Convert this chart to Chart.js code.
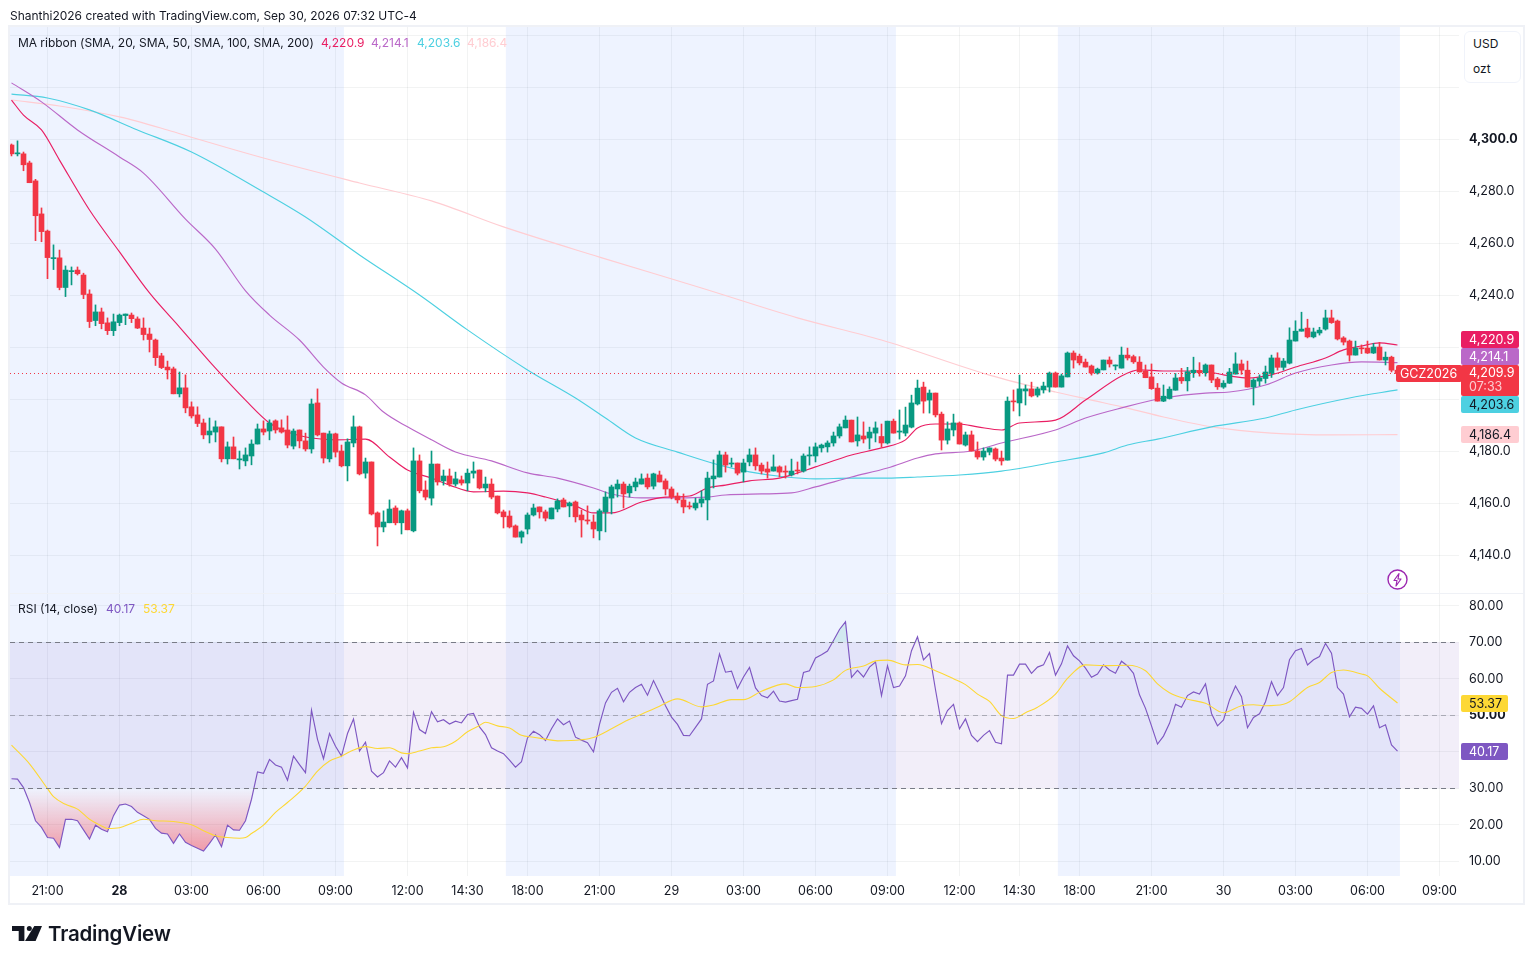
<!DOCTYPE html>
<html><head><meta charset="utf-8"><title>GCZ2026</title>
<script src="https://cdn.jsdelivr.net/npm/chart.js@4/dist/chart.umd.min.js"></script>
<style>
html,body{margin:0;padding:0;background:#fff;width:1534px;height:964px;overflow:hidden;font-family:Inter,sans-serif;color:#131722}
#c{position:absolute;left:0;top:0}
.t{position:absolute;white-space:nowrap;font-size:12px;line-height:16px}
</style></head><body>
<canvas id="c" width="1534" height="964"></canvas>
<div class="t" style="left:10px;top:8px;letter-spacing:-.015px">Shanthi2026 created with TradingView.com, Sep 30, 2026 07:32 UTC-4</div>
<div class="t" style="left:18px;top:35px;letter-spacing:-.04px">MA ribbon (SMA, 20, SMA, 50, SMA, 100, SMA, 200)</div>
<div class="t" style="left:321px;top:35px;color:#E91E63">4,220.9</div>
<div class="t" style="left:371px;top:35px;color:#BA68C8">4,214.1</div>
<div class="t" style="left:417px;top:35px;color:#4DD0E1">4,203.6</div>
<div class="t" style="left:467px;top:35px;color:#FFCDD2">4,186.4</div>
<div class="t" style="left:18px;top:601px">RSI (14, close)</div>
<div class="t" style="left:106px;top:601px;color:#7E57C2">40.17</div>
<div class="t" style="left:143px;top:601px;color:#FDD835">53.37</div>
<div style="position:absolute;left:1464px;top:31px;width:55px;height:50px;border:1px solid #f0f3fa;border-radius:6px;background:#fff"></div>
<div class="t" style="left:1473px;top:36px">USD</div>
<div class="t" style="left:1473px;top:61px">ozt</div>
<svg style="position:absolute;left:1386px;top:568px" width="24" height="24" viewBox="0 0 24 24"><circle cx="11.5" cy="11.5" r="9.5" fill="#fff" stroke="#9C27B0" stroke-width="1.4"/><path d="M13 5.5 8 12.5h3l-1 5.5 5-7h-3z" fill="none" stroke="#9C27B0" stroke-width="1.2" stroke-linejoin="round"/></svg>
<svg style="position:absolute;left:12px;top:926px" width="31" height="16" viewBox="0 0 31 16"><path d="M0 0H12.4V15H6.7V5H0z" fill="#131722"/><circle cx="17.3" cy="2.5" r="2.5" fill="#131722"/><path d="M22.3 0H30L23.6 15H13z" fill="#131722"/></svg>
<div class="t" style="left:48px;top:921px;font-size:20.5px;line-height:26px;font-weight:600;letter-spacing:-.2px">TradingView</div>
<script>
const opens=[4297.8,4294.4,4294.4,4290.9,4284.0,4271.3,4264.7,4254.1,4254.4,4243.0,
4249.1,4249.7,4247.8,4240.5,4230.3,4233.6,4229.4,4226.4,4229.5,4232.2,
4232.4,4230.9,4227.4,4225.1,4222.8,4216.7,4212.4,4211.7,4202.1,4204.4,
4197.1,4194.0,4190.9,4186.3,4187.4,4189.4,4177.1,4181.7,4176.7,4176.3,
4178.2,4182.8,4188.6,4187.8,4191.7,4189.0,4188.2,4182.0,4188.2,4184.0,
4180.9,4198.6,4187.0,4177.1,4186.7,4180.1,4174.4,4183.2,4189.4,4171.6,
4175.9,4156.3,4150.9,4152.5,4158.2,4152.5,4157.1,4149.4,4176.3,4165.1,
4162.0,4175.1,4168.6,4170.5,4167.4,4169.0,4167.8,4171.6,4172.8,4165.9,
4167.4,4162.8,4156.7,4155.1,4151.3,4147.0,4150.1,4155.5,4158.6,4156.7,
4154.0,4157.8,4161.3,4159.0,4160.5,4155.5,4153.6,4152.8,4149.4,4156.7,
4162.0,4165.5,4167.4,4164.0,4166.3,4167.4,4169.7,4166.6,4170.9,4168.6,
4165.5,4162.8,4161.3,4159.0,4158.2,4160.1,4161.3,4169.4,4170.1,4178.6,
4175.1,4175.5,4172.0,4175.9,4178.6,4174.7,4173.2,4172.4,4174.0,4172.4,
4170.9,4172.8,4172.4,4178.2,4178.2,4181.3,4181.7,4183.2,4185.9,4189.0,
4192.0,4184.0,4185.9,4185.1,4187.0,4185.7,4183.2,4191.6,4187.4,4187.0,
4189.3,4198.2,4204.7,4199.7,4202.4,4194.3,4184.3,4188.2,4190.9,4182.4,
4186.3,4180.1,4177.8,4179.7,4180.9,4177.4,4176.6,4199.3,4198.6,4203.2,
4204.0,4201.6,4203.6,4204.7,4210.1,4204.7,4208.6,4217.8,4216.6,4214.3,
4212.8,4210.1,4211.3,4215.1,4212.8,4212.0,4217.0,4216.4,4214.3,4210.8,
4208.6,4204.3,4199.3,4200.3,4203.5,4208.4,4207.1,4210.2,4211.1,4210.2,
4213.2,4207.8,4204.7,4206.2,4209.7,4213.6,4211.2,4204.7,4207.0,4208.0,
4209.9,4215.9,4212.3,4213.9,4222.4,4226.2,4227.4,4224.0,4225.5,4227.0,
4231.3,4230.1,4223.6,4222.4,4217.0,4219.7,4219.7,4217.8,4220.1,4215.1,4216.2,4211.2];
const closes=[4294.4,4294.7,4290.2,4283.3,4270.6,4264.5,4254.5,4254.4,4243.0,4249.7,
4249.4,4248.3,4240.3,4229.9,4233.6,4229.1,4226.4,4229.8,4232.4,4232.8,
4231.0,4227.4,4224.9,4223.0,4216.0,4212.2,4211.3,4202.1,4204.4,4196.7,
4193.6,4190.7,4186.3,4187.8,4189.4,4177.1,4181.7,4177.1,4177.1,4178.6,
4182.8,4188.6,4187.4,4190.9,4188.2,4187.4,4182.4,4187.8,4184.0,4180.9,
4198.2,4186.3,4177.4,4186.7,4179.7,4174.4,4183.6,4189.4,4171.3,4175.9,
4155.9,4150.9,4152.8,4157.8,4152.5,4157.1,4149.8,4176.3,4164.8,4162.4,
4175.1,4168.2,4170.5,4167.4,4169.4,4167.8,4171.6,4172.4,4165.9,4167.4,
4162.4,4156.3,4154.8,4150.9,4147.0,4149.0,4155.5,4158.2,4156.7,4154.3,
4158.2,4160.9,4158.6,4160.1,4154.8,4153.6,4153.2,4150.1,4157.1,4162.4,
4166.3,4167.4,4163.6,4166.6,4168.2,4169.4,4166.3,4171.3,4168.2,4165.5,
4162.4,4161.3,4158.6,4158.6,4160.1,4161.7,4169.7,4170.5,4178.6,4174.7,
4175.5,4171.6,4175.5,4178.6,4174.4,4172.4,4172.0,4174.0,4172.0,4172.0,
4172.4,4172.4,4178.2,4178.6,4181.7,4182.4,4183.2,4185.9,4189.4,4192.0,
4183.6,4186.3,4184.7,4187.4,4189.0,4183.2,4191.6,4187.0,4187.8,4190.1,
4198.6,4204.3,4199.3,4202.4,4194.0,4184.3,4188.6,4190.9,4182.8,4186.3,
4180.1,4177.8,4180.1,4181.3,4177.0,4176.3,4199.3,4199.0,4204.0,4204.0,
4201.3,4204.0,4205.1,4210.1,4204.7,4209.0,4217.8,4215.1,4214.0,4212.4,
4210.1,4211.6,4215.1,4213.6,4213.2,4217.0,4215.9,4214.4,4210.5,4208.3,
4204.1,4199.3,4201.2,4203.9,4208.2,4207.1,4210.6,4211.2,4210.2,4213.2,
4207.4,4204.8,4206.2,4210.5,4213.6,4211.2,4204.7,4207.4,4208.2,4210.5,
4215.9,4212.3,4214.7,4222.8,4226.2,4227.0,4224.0,4225.9,4226.6,4231.3,
4229.5,4223.2,4222.0,4217.0,4219.7,4219.4,4217.8,4220.1,4215.1,4216.2,4211.2,4209.9];
const highs=[4298.2,4299.4,4295.1,4291.6,4284.6,4273.6,4265.1,4259.4,4257.4,4251.3,
4250.9,4250.9,4248.5,4242.1,4236.3,4235.1,4231.3,4232.8,4232.8,4232.8,
4233.2,4231.7,4231.3,4227.4,4223.2,4217.7,4214.7,4212.4,4210.5,4209.4,
4199.0,4197.1,4192.4,4192.8,4191.7,4189.4,4183.6,4185.5,4180.1,4181.3,
4184.4,4190.5,4191.7,4192.1,4192.1,4192.1,4193.6,4188.6,4188.2,4187.0,
4200.1,4204.0,4187.0,4187.8,4187.0,4182.4,4184.8,4193.6,4189.7,4177.4,
4175.9,4156.7,4157.1,4161.3,4159.0,4157.4,4157.8,4181.3,4178.6,4168.6,
4180.1,4175.1,4172.8,4173.2,4172.0,4170.5,4173.2,4175.9,4172.8,4170.1,
4169.4,4162.8,4157.4,4157.1,4151.7,4149.4,4156.3,4159.7,4158.6,4157.4,
4158.2,4161.7,4162.0,4160.5,4160.9,4157.4,4159.0,4155.5,4157.8,4164.4,
4167.0,4169.0,4168.2,4167.4,4169.7,4171.3,4171.3,4171.6,4172.4,4169.4,
4166.3,4164.0,4163.6,4160.5,4162.0,4164.8,4172.0,4176.7,4180.1,4179.7,
4177.4,4175.5,4177.0,4180.9,4181.3,4175.5,4175.9,4178.6,4174.4,4174.4,
4177.0,4175.9,4179.0,4181.7,4183.2,4182.8,4184.0,4187.4,4190.5,4193.6,
4192.0,4193.2,4191.3,4189.3,4191.3,4190.5,4191.6,4192.4,4195.9,4197.0,
4201.6,4207.4,4206.6,4203.6,4202.4,4195.1,4191.3,4194.3,4191.3,4187.4,
4187.8,4183.6,4181.3,4181.3,4181.3,4180.1,4200.9,4203.6,4209.3,4205.5,
4206.6,4204.7,4206.6,4210.5,4210.5,4209.7,4218.2,4218.6,4217.4,4215.5,
4213.2,4212.0,4215.1,4216.3,4213.2,4220.1,4219.7,4217.0,4216.4,4213.2,
4213.6,4206.1,4205.5,4204.8,4209.9,4211.9,4212.3,4216.2,4214.1,4213.6,
4213.2,4208.4,4207.2,4211.9,4217.9,4215.1,4214.7,4207.9,4209.4,4212.8,
4217.0,4217.9,4215.7,4227.5,4230.2,4233.5,4230.8,4227.4,4227.7,4234.3,
4234.3,4230.5,4224.1,4222.8,4222.4,4220.9,4222.4,4221.5,4221.9,4218.2,4216.6,4212.0];
const lows=[4293.6,4293.6,4287.9,4283.3,4261.0,4260.6,4246.4,4249.9,4242.1,4239.5,
4244.0,4247.8,4238.7,4227.6,4228.3,4227.1,4224.9,4224.5,4228.3,4228.7,
4229.5,4227.2,4222.8,4218.2,4213.0,4211.8,4207.8,4202.1,4200.9,4194.8,
4192.8,4189.5,4184.8,4183.2,4183.6,4175.9,4175.1,4177.1,4173.2,4174.4,
4174.8,4182.8,4186.3,4184.4,4187.0,4187.0,4181.3,4180.9,4181.3,4180.1,
4179.3,4185.9,4175.5,4175.9,4177.8,4174.0,4168.6,4181.7,4170.9,4169.7,
4155.5,4143.6,4149.0,4152.5,4151.7,4148.2,4149.8,4149.0,4164.0,4161.3,
4159.3,4167.0,4167.0,4166.6,4166.6,4167.0,4164.8,4169.7,4165.5,4164.4,
4161.7,4155.9,4150.5,4150.5,4147.0,4144.7,4148.2,4155.1,4154.3,4153.2,
4154.0,4156.7,4158.6,4154.8,4152.8,4147.0,4152.0,4146.7,4145.9,4149.0,
4155.9,4162.4,4158.2,4162.4,4164.8,4167.4,4165.5,4165.5,4168.2,4163.2,
4161.7,4160.1,4156.3,4157.8,4157.4,4158.6,4153.6,4165.9,4170.1,4172.0,
4174.0,4170.9,4168.2,4174.4,4172.8,4171.3,4169.7,4172.4,4170.1,4169.7,
4170.5,4171.3,4172.0,4174.7,4175.9,4179.7,4179.7,4182.0,4185.1,4189.0,
4183.6,4182.0,4183.2,4180.9,4183.6,4181.6,4182.8,4187.0,4184.7,4185.9,
4189.0,4197.8,4194.7,4194.7,4193.2,4180.5,4182.8,4185.9,4182.8,4182.0,
4180.1,4177.0,4176.6,4178.6,4176.3,4174.7,4176.6,4195.5,4193.6,4197.8,
4200.9,4200.9,4202.4,4202.8,4204.7,4204.7,4208.6,4212.0,4213.2,4212.4,
4209.3,4209.7,4211.3,4212.4,4211.3,4212.0,4215.1,4213.8,4210.5,4208.3,
4203.8,4199.3,4199.1,4200.1,4203.5,4206.1,4203.2,4208.4,4208.9,4208.9,
4206.4,4203.8,4204.2,4206.1,4209.7,4209.6,4204.7,4197.8,4205.2,4206.2,
4208.4,4211.2,4211.2,4213.6,4222.4,4226.2,4223.6,4223.6,4224.7,4226.6,
4229.2,4222.8,4220.9,4214.7,4217.0,4217.6,4217.6,4217.6,4215.1,4213.2,4210.5,4208.5];
const rsiValues=[32.6,32.5,30.2,26.1,21.1,19.3,16.5,16.3,13.8,21.5,
21.5,21.1,18.6,16.1,19.9,18.8,18.1,22.5,25.4,25.7,
25.0,23.4,22.5,21.5,19.0,17.7,17.5,14.9,17.5,15.2,
14.3,13.6,12.8,14.9,17.2,14.0,19.9,18.6,18.5,21.1,
27.0,34.5,34.1,37.9,36.4,35.8,32.2,38.8,36.5,34.3,
51.4,43.4,38.1,45.0,41.5,38.8,45.0,49.0,40.2,42.6,
34.7,33.1,34.3,37.5,35.8,38.4,35.6,50.8,46.1,45.0,
51.0,48.2,48.8,47.6,48.4,47.9,50.2,50.5,46.8,44.7,
41.1,40.2,39.5,37.7,35.8,37.3,43.8,45.6,44.7,43.1,
46.3,49.0,47.4,48.4,44.0,43.2,42.5,40.0,47.5,53.4,
56.3,57.4,53.7,56.3,57.6,58.5,55.5,59.5,56.1,52.6,
49.5,47.5,44.5,44.4,46.7,49.0,58.5,59.4,66.8,61.8,
62.1,57.3,60.5,63.1,57.5,55.4,54.8,56.6,53.9,53.6,
54.0,54.4,61.7,62.2,65.7,66.6,67.6,70.5,73.5,75.6,
60.4,62.3,60.5,63.2,64.6,55.4,63.6,57.6,58.0,60.8,
67.7,71.5,65.2,66.9,57.0,47.7,51.3,53.0,46.3,49.0,
44.5,42.8,44.5,45.8,42.6,42.2,61.0,61.0,64.0,64.0,
61.5,63.2,63.8,67.2,61.0,64.1,69.0,66.3,64.9,62.9,
60.4,61.3,63.8,62.4,61.5,64.8,63.5,61.5,55.6,51.9,
47.1,42.1,44.3,47.8,53.0,52.2,55.4,56.4,55.8,58.6,
50.5,47.1,48.7,54.2,58.0,55.1,46.6,49.4,50.4,53.7,
59.2,55.4,57.6,65.2,67.7,68.3,63.8,65.2,66.1,69.7,
67.0,57.6,55.8,49.6,52.2,51.9,50.3,52.6,46.6,47.4,41.9,40.17];
const rsiMaIdx=[0,3,6,7,9,11,13,15,16,18,20,22,24,27,30,32,34,36,38,39,40,42,44,46,49,51,53,55,57,59,61,63,65,66,68,70,72,74,76,78,79,81,83,85,87,90,91,95,97,100,102,105,108,111,115,117,120,122,125,129,131,134,137,139,142,144,146,149,151,154,157,159,161,163,165,167,169,171,174,176,179,182,186,189,191,193,196,199,202,205,207,209,212,213,216,218,220,222,225,226,228,231];
const rsiMaVals=[41.8,36.7,29.9,27.7,25.6,24.3,21.5,19.7,19.0,19.2,20.4,21.5,21.1,20.9,20.0,18.4,17.0,16.5,16.3,16.5,17.6,19.9,23.4,26.1,30.6,34.7,37.5,38.8,40.5,41.4,40.9,41.1,39.7,39.5,40.2,41.1,41.4,42.9,45.5,47.2,48.1,47.1,46.5,44.5,44.0,43.2,43.0,43.3,43.9,46.3,48.1,50.3,52.5,54.5,52.3,52.8,54.3,54.3,56.6,58.6,57.6,57.9,59.7,62.3,63.5,64.9,65.1,63.8,63.9,62.2,60.0,58.4,55.8,53.8,49.9,49.1,50.7,52.2,55.8,60.1,63.8,63.6,63.7,62.2,58.6,56.2,54.4,53.3,50.7,52.6,52.9,52.6,53.0,53.7,57.6,59.0,61.7,62.4,61.3,60.8,57.4,53.37];
const sma20Idx=[0,2,5,8,13,18,23,28,34,39,43,46,50,54,59,63,66,70,73,77,82,86,89,94,97,100,105,109,113,116,119,123,128,130,134,140,145,149,151,154,158,161,165,168,174,179,185,188,192,198,203,206,210,214,219,222,225,228,231];
const sma20Vals=[4315.1,4309.3,4303.6,4292.0,4272.8,4256.7,4240.9,4227.8,4212.0,4199.7,4190.9,4187.4,4185.1,4184.4,4184.7,4177.8,4172.8,4169.7,4167.0,4164.4,4164.7,4164.0,4162.4,4159.0,4156.3,4156.3,4160.5,4162.4,4162.8,4165.9,4167.0,4168.6,4169.7,4170.9,4174.0,4178.6,4181.3,4184.4,4189.0,4190.5,4190.5,4189.4,4188.2,4190.9,4192.0,4199.7,4209.0,4211.3,4210.9,4210.9,4209.0,4208.2,4209.4,4212.4,4215.9,4219.0,4220.5,4221.7,4220.9];
const sma50Idx=[0,5,11,18,22,29,34,39,43,48,52,55,59,62,66,70,74,80,86,91,97,100,105,111,116,119,125,130,134,140,146,151,154,160,165,174,179,185,192,199,203,209,214,220,225,231];
const sma50Vals=[4321.7,4314.4,4303.6,4293.2,4287.0,4269.3,4257.8,4241.7,4232.4,4222.8,4212.4,4206.3,4201.7,4195.1,4189.4,4184.4,4179.7,4176.3,4171.7,4169.7,4165.9,4163.6,4162.1,4162.1,4162.4,4163.2,4163.6,4164.0,4166.3,4170.1,4173.6,4177.4,4179.0,4180.1,4183.2,4188.2,4192.8,4196.7,4200.5,4202.4,4202.8,4205.5,4210.1,4213.2,4214.4,4214.1];
const sma100Idx=[0,6,13,21,30,42,49,58,68,76,86,94,99,104,111,118,123,129,134,140,146,151,158,165,174,182,186,191,200,209,214,223,231];
const sma100Vals=[4317.4,4315.9,4311.3,4303.6,4295.1,4279.7,4270.1,4255.5,4240.1,4226.7,4211.3,4200.5,4192.8,4185.1,4179.7,4174.7,4172.1,4170.1,4169.4,4169.7,4169.7,4170.1,4170.9,4172.4,4175.9,4179.4,4182.4,4184.7,4189.4,4192.8,4195.9,4200.5,4203.6];
const sma200Idx=[0,8,18,26,31,42,58,70,82,98,115,131,145,163,174,180,186,192,200,210,220,231];
const sma200Vals=[4315.1,4312.8,4308.6,4303.6,4300.1,4292.8,4283.2,4276.3,4266.3,4254.7,4242.8,4231.3,4222.8,4209.3,4202.8,4199.7,4196.6,4193.2,4189.4,4187.0,4186.3,4186.4];
const priceTicks=[4140,4160,4180,4200,4220,4240,4260,4280,4300,4320,4340];
const rsiTicks=[10,20,30,40,50,60,70,80];
const timeIdx=[6,18,30,42,54,66,76,86,98,110,122,134,146,158,168,178,190,202,214,226,238];
const timeLabels=['21:00','28','03:00','06:00','09:00','12:00','14:30','18:00','21:00','29','03:00','06:00','09:00','12:00','14:30','18:00','21:00','30','03:00','06:00','09:00'];
const sessionStart=[-0.25,82.4,174.4];
const sessionEnd=[55.4,147.4,231.4];
const rsiBandHigh=70,rsiBandMid=50,rsiBandLow=30;
const lastClose=closes[closes.length-1];

const RED='#F23645',GREEN='#089981',FONT='Inter',AXIS_SIZE=12.5;
const pts=(ix,v)=>ix.map((x,i)=>({x,y:v[i]}));
const candleColor=c=>{const i=c.dataIndex;return closes[i]>=opens[i]?GREEN:RED;};
const tv=c=>c.tick?c.tick.value:null;
const ctx0=document.getElementById('c').getContext('2d');
const lowFill=ctx0.createLinearGradient(0,788,0,856);
lowFill.addColorStop(0,'rgba(242,54,69,0)');lowFill.addColorStop(1,'rgba(242,54,69,0.5)');

const maLine=(label,ix,v,color)=>({type:'line',label,data:pts(ix,v),xAxisID:'x',yAxisID:'yP',borderColor:color,borderWidth:1.15,pointRadius:0,cubicInterpolationMode:'monotone',order:5,fill:false});

const paneDecor={id:'paneDecor',
 beforeDatasetsDraw(ch){
  const c=ch.ctx,a=ch.chartArea,x=ch.scales.x,yR=ch.scales.yR;
  c.save();
  c.fillStyle='rgba(41,98,255,0.08)';
  sessionStart.forEach((s,i)=>{const l=x.getPixelForValue(s),r=x.getPixelForValue(sessionEnd[i]);c.fillRect(l,a.top,r-l,a.bottom-a.top);});
  const t=yR.getPixelForValue(rsiBandHigh),b=yR.getPixelForValue(rsiBandLow);
  c.fillStyle='rgba(126,87,194,0.1)';c.fillRect(a.left,t,a.right-a.left,b-t);
  c.restore();
 },
 afterDatasetsDraw(ch){
  const c=ch.ctx,a=ch.chartArea,yR=ch.scales.yR,yP=ch.scales.yP;
  c.save();
  c.lineWidth=1;c.setLineDash([5,4]);
  [[rsiBandHigh,'#787B86'],[rsiBandMid,'rgba(120,123,134,.55)'],[rsiBandLow,'#787B86']].forEach(([v,col])=>{
   const y=Math.round(yR.getPixelForValue(v))+.5;c.strokeStyle=col;c.beginPath();c.moveTo(a.left,y);c.lineTo(a.right,y);c.stroke();});
  c.setLineDash([1,3]);c.strokeStyle=RED;
  const py=Math.floor(yP.getPixelForValue(lastClose))+.5;
  c.beginPath();c.moveTo(a.left,py);c.lineTo(a.right,py);c.stroke();
  c.restore();
 },
 afterDraw(ch){
  const c=ch.ctx;
  c.save();
  c.setLineDash([]);c.strokeStyle='#eff1f6';c.lineWidth=2;
  c.strokeRect(9,26,1515,878);
  c.lineWidth=1;c.beginPath();c.moveTo(10,593.5);c.lineTo(1524,593.5);c.stroke();
  c.font=AXIS_SIZE+'px '+FONT;c.textBaseline='middle';c.textAlign='left';
  const tag=(x,y,w,h,bg,fg,txt,ty)=>{c.fillStyle=bg;c.beginPath();c.roundRect(x,y,w,h,2);c.fill();
   c.fillStyle=fg;c.fillText(txt,x+8,ty===undefined?y+h/2+.5:ty);};
  tag(1461,331,58,17,'#E91E63','#fff','4,220.9');
  tag(1461,348,58,17,'#BA68C8','#fff','4,214.1');
  tag(1461,365,58,31,RED,'#fff','4,209.9',373.5);
  c.fillStyle='rgba(255,255,255,.75)';c.fillText('07:33',1469,387);
  tag(1461,396,58,17,'#4DD0E1','#131722','4,203.6');
  tag(1461,426,58,17,'#FFCDD2','#131722','4,186.4');
  c.fillStyle=RED;c.beginPath();c.roundRect(1396,365,66,17,2);c.fill();
  c.fillStyle='#fff';c.fillText('GCZ2026',1400,374);
  tag(1461,695,47,17,'#FDD835','#131722','53.37');
  tag(1461,743,47,17,'#7E57C2','#fff','40.17');
  c.restore();
 }};

new Chart(ctx0,{
 type:'bar',
 data:{datasets:[
  {type:'bar',label:'GCZ2026 body',data:opens.map((o,i)=>({x:i,y:[o,closes[i]]})),xAxisID:'x',yAxisID:'yP',backgroundColor:candleColor,barThickness:5,grouped:false,minBarLength:1,order:1},
  {type:'bar',label:'GCZ2026 wick',data:highs.map((h,i)=>({x:i,y:[lows[i],h]})),xAxisID:'x',yAxisID:'yP',backgroundColor:candleColor,barThickness:1,grouped:false,order:2},
  maLine('SMA 20',sma20Idx,sma20Vals,'#E91E63'),
  maLine('SMA 50',sma50Idx,sma50Vals,'#BA68C8'),
  maLine('SMA 100',sma100Idx,sma100Vals,'#4DD0E1'),
  maLine('SMA 200',sma200Idx,sma200Vals,'#FFCDD2'),
  {type:'line',label:'RSI MA',data:pts(rsiMaIdx,rsiMaVals),xAxisID:'x',yAxisID:'yR',borderColor:'#FDD835',borderWidth:1.1,pointRadius:0,cubicInterpolationMode:'monotone',order:3,fill:false},
  {type:'line',label:'RSI',data:rsiValues.map((y,x)=>({x,y})),xAxisID:'x',yAxisID:'yR',borderColor:'#7E57C2',borderWidth:1.15,pointRadius:0,tension:0,order:4,
    fill:{target:{value:rsiBandLow},above:'rgba(0,0,0,0)',below:lowFill}},
  {type:'line',label:'RSI overbought',data:rsiValues.map((y,x)=>({x,y})),xAxisID:'x',yAxisID:'yR',borderWidth:0,borderColor:'rgba(0,0,0,0)',pointRadius:0,tension:0,order:6,
    fill:{target:{value:rsiBandHigh},above:'rgba(8,153,129,0.12)',below:'rgba(0,0,0,0)'}}
 ]},
 options:{responsive:false,animation:false,devicePixelRatio:1,
  layout:{padding:{left:10,right:10,top:27,bottom:60}},
  plugins:{legend:{display:false},tooltip:{enabled:false},filler:{propagate:false}},
  scales:{
   x:{type:'linear',position:'bottom',offset:false,min:-0.25,max:241.25,
    afterBuildTicks(s){s.ticks=timeIdx.map(value=>({value}));},
    afterFit(s){s.height=28;},
    grid:{color:'rgba(42,46,57,0.06)',offset:false,drawTicks:false},border:{display:false},
    ticks:{autoSkip:false,maxRotation:0,padding:8,color:'#131722',
     font:c=>({family:FONT,size:AXIS_SIZE,weight:timeLabels[timeIdx.indexOf(tv(c))]==='28'?'700':'400'}),
     callback:v=>{const i=timeIdx.indexOf(v);return i<0?'':timeLabels[i];}}},
   yP:{type:'linear',position:'right',stack:'panes',stackWeight:2,min:4125.5,max:4343.19,
    afterBuildTicks(s){s.ticks=priceTicks.map(value=>({value}));},
    afterFit(s){s.width=65;},
    grid:{color:'rgba(42,46,57,0.06)',drawTicks:false},border:{display:false},
    ticks:{padding:10,color:'#131722',autoSkip:false,
     font:c=>({family:FONT,size:AXIS_SIZE,weight:tv(c)===4300?'700':'400'}),
     callback:v=>(v===4320||v===4340||v===4220||v===4200)?'':v.toLocaleString('en-US',{minimumFractionDigits:1,maximumFractionDigits:1})}},
   yR:{type:'linear',position:'right',stack:'panes',stackWeight:1,min:5.97,max:83.5,
    afterBuildTicks(s){s.ticks=rsiTicks.map(value=>({value}));},
    afterFit(s){s.width=65;},
    grid:{color:'rgba(42,46,57,0.06)',drawTicks:false},border:{display:false},
    ticks:{padding:10,color:'#131722',autoSkip:false,
     font:c=>({family:FONT,size:AXIS_SIZE,weight:tv(c)===50?'700':'400'}),
     callback:v=>v.toFixed(2)}}
  }},
 plugins:[paneDecor]
});
</script></body></html>
